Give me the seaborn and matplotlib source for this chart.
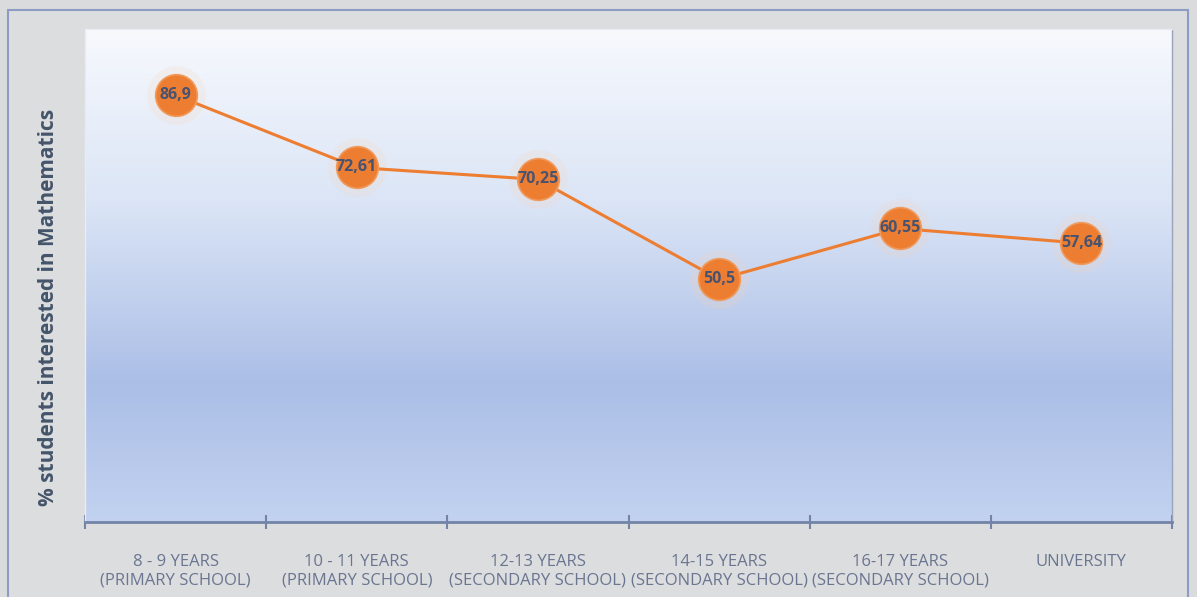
import numpy as np
import pandas as pd
import matplotlib.pyplot as plt
from matplotlib.colors import LinearSegmentedColormap
from matplotlib.patches import Rectangle
import seaborn as sns

# ------ DATA ------
age_groups = ["8 - 9 YEARS\n(PRIMARY SCHOOL)",
              "10 - 11 YEARS\n(PRIMARY SCHOOL)",
              "12-13 YEARS\n(SECONDARY SCHOOL)",
              "14-15 YEARS\n(SECONDARY SCHOOL)",
              "16-17 YEARS\n(SECONDARY SCHOOL)",
              "UNIVERSITY\n"]
interest_pct = [86.9, 72.61, 70.25, 50.5, 60.55, 57.64]
value_labels = ["86,9", "72,61", "70,25", "50,5", "60,55", "57,64"]

df = pd.DataFrame({"pos": range(len(age_groups)), "pct": interest_pct})

# ------ CHART ------
sns.set_style("white")
plt.rcParams['font.family'] = ['Open Sans', 'DejaVu Sans']

fig = plt.figure(figsize=(11.97, 5.97), dpi=100)
fig.patch.set_facecolor('#dadbdc')

# outer chart frame
fig.patches.append(Rectangle((8 / 1197, -0.01), 1180 / 1197, 1 - 10 / 597 + 0.01,
                             transform=fig.transFigure, facecolor='#dcdddf',
                             edgecolor='#8d9cc4', linewidth=1.5, zorder=-1))

ax = fig.add_axes([85 / 1197, 1 - 522 / 597, (1172 - 85) / 1197, (522 - 29) / 597])
ax.set_zorder(1)

# gradient background of plot area
grad = LinearSegmentedColormap.from_list('bg', [(0.0, '#f7f9fd'), (0.35, '#dbe5f6'),
                                                (0.72, '#abbee6'), (1.0, '#c2d2f0')])
ax.imshow(np.linspace(0, 1, 256).reshape(-1, 1), cmap=grad, aspect='auto',
          extent=(0, 1, 0, 1), transform=ax.transAxes, zorder=0)

# soft glow under markers
ax.scatter(df.pos, df.pct, s=1800, color='#f8d2b4', alpha=0.18, linewidths=0, zorder=2)

sns.lineplot(data=df, x='pos', y='pct', ax=ax, color='#ed7d31', linewidth=2.2,
             marker='o', markersize=30, markerfacecolor='#ed7d31',
             markeredgecolor='#f09a5c', markeredgewidth=1.2, zorder=3)

for x, y, lab in zip(df.pos, df.pct, value_labels):
    ax.text(x, y, lab, ha='center', va='center', fontsize=11.5, fontweight='bold',
            color='#475370', zorder=4)

ax.set_xlim(-0.5, len(age_groups) - 0.5)
ax.set_ylim(2.5, 100)
ax.set_yticks([])

ax.set_xticks(range(len(age_groups)))
ax.set_xticklabels(age_groups, fontsize=12, color='#6a7590', linespacing=1.25)
ax.set_xticks(np.arange(-0.5, len(age_groups), 1), minor=True)
ax.tick_params(axis='x', which='major', bottom=True, length=0, pad=23)
ax.tick_params(axis='x', which='minor', bottom=True, length=10, width=1.5,
               direction='inout', color='#7484a8')

ax.set_xlabel('')
ax.set_ylabel('% students interested in Mathematics', fontsize=15, fontweight='bold',
              color='#44546a')
ax.yaxis.set_label_coords(-0.024, 0.435)

ax.spines['bottom'].set_color('#7484a8')
ax.spines['bottom'].set_linewidth(2)
for side in ['left', 'top']:
    ax.spines[side].set_color('#e8ecf4')
    ax.spines[side].set_linewidth(1)
ax.spines['right'].set_color('#9aa3b8')
ax.spines['right'].set_linewidth(1)

plt.savefig('out.png', dpi=100, facecolor=fig.get_facecolor())
